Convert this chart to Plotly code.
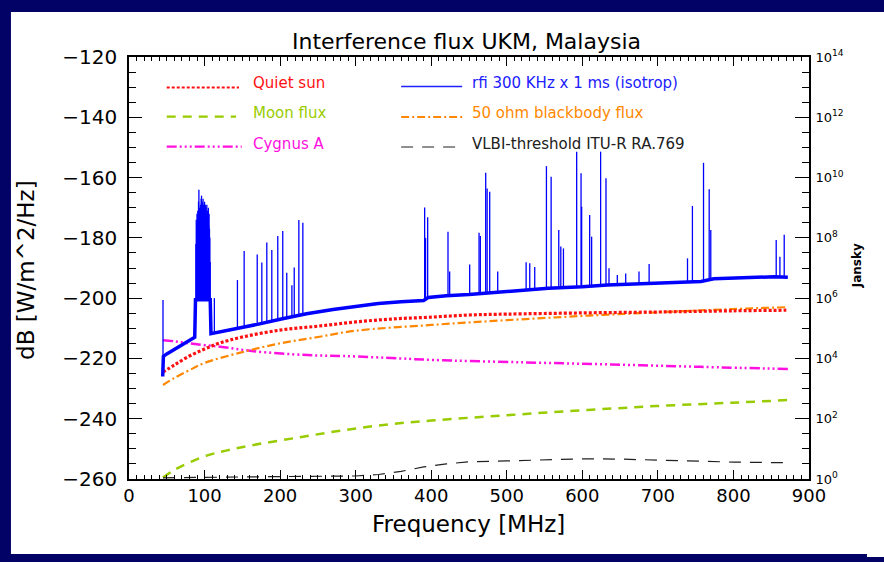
import numpy as np
import plotly.graph_objects as go

# ---------------- data ----------------
sun_freq = [45, 60, 80, 100, 120, 150, 200, 250, 300, 350, 400, 450, 500, 600, 700, 800, 870]
sun_db = [-224.5, -222.2, -219.2, -216.9, -214.9, -212.9, -210.6, -209.3, -207.9, -206.9,
          -206.3, -205.6, -205.3, -204.9, -204.6, -204.2, -204.0]

moon_freq = [45, 60, 80, 106, 130, 165, 225, 284, 343, 400, 461, 520, 579, 640, 698, 760, 816, 872]
moon_db = [-259.5, -257.0, -254.5, -252.0, -250.5, -248.7, -246.2, -243.8, -241.9, -240.6,
           -239.5, -238.5, -237.5, -236.6, -235.8, -235.1, -234.5, -233.8]

cyg_freq = [45, 60, 80, 100, 121, 165, 236, 284, 359, 402, 521, 639, 757, 872]
cyg_db = [-214.0, -214.3, -215.0, -215.6, -216.1, -217.6, -218.9, -219.2, -220.0, -220.5,
          -221.3, -222.0, -222.8, -223.5]

bb_freq = [45, 60, 80, 100, 150, 200, 250, 300, 400, 500, 600, 700, 800, 870]
bb_db = [-228.8, -226.5, -223.9, -221.5, -217.9, -215.0, -212.9, -210.8, -208.9, -207.3,
         -205.9, -204.7, -203.6, -203.0]

vlbi_freq = [45, 100, 200, 300, 330, 360, 390, 420, 450, 500, 550, 600, 650, 700, 750, 800, 870]
vlbi_db = [-259.6, -259.4, -259.2, -259.0, -258.5, -257.5, -256.0, -255.0, -254.3, -254.0,
           -253.6, -253.3, -253.4, -253.8, -254.2, -254.4, -254.6]

# rfi: baseline of the measured spectrum
rfi_base_freq = [44.6, 45.5, 50, 60, 70, 80, 87, 88, 107.5, 108.5, 115, 130, 150, 170, 200, 235,
                 270, 300, 330, 360, 390, 396, 420, 450, 478, 500, 530, 555, 600, 633, 660,
                 686, 720, 757, 774, 800, 830, 854, 872]
rfi_base_db = [-226.0, -219.3, -218.5, -217.0, -215.5, -214.0, -213.0, -200.5, -200.5, -211.8,
               -211.5, -210.7, -209.7, -208.7, -207.0, -205.2, -203.8, -202.8, -201.8, -201.2,
               -200.8, -199.8, -199.2, -198.8, -198.3, -197.8, -197.3, -196.7, -196.2, -195.6,
               -195.4, -195.1, -194.8, -194.5, -193.6, -193.4, -193.2, -192.9, -193.1]

# rfi: narrow interference spikes (frequency, peak level)
rfi_spike_freq = [45, 113, 143.5, 152.4, 169.7, 175.8, 182.4, 189, 196.9, 203.5, 208.8, 215.6,
                  218.7, 224.8, 230.1, 391.3, 392.5, 395.3, 422.2, 424.4, 450.9, 463.3, 465,
                  472.1, 474, 477.4, 488, 525.6, 530.4, 537, 552.5, 558.7, 568.8, 571.5, 575,
                  592.5, 598.3, 599.1, 609.7, 612.3, 624.2, 631.3, 635.3, 646.3, 657.4, 675,
                  688.4, 739.2, 745.7, 760.4, 767.9, 770, 856.6, 861.5, 867.2]
rfi_spike_db = [-200.6, -200.0, -194.0, -184.4, -185.5, -188.2, -181.5, -184.0, -179.4, -177.7,
                -191.6, -195.7, -189.8, -174.1, -175.0, -169.9, -180.0, -173.2, -178.0, -191.2,
                -188.8, -178.3, -179.4, -158.4, -163.6, -164.7, -191.2, -188.1, -188.4, -189.7,
                -156.2, -159.7, -177.4, -182.9, -183.5, -151.4, -158.6, -169.7, -172.4, -179.6,
                -151.4, -160.2, -190.1, -192.3, -191.8, -191.2, -188.7, -186.8, -169.4, -155.1,
                -163.9, -177.4, -180.7, -186.3, -179.0]

# rfi: FM broadcast band 88-108 MHz
fm_freq = [88.5, 89.0, 89.5, 90.0, 90.5, 91.0, 91.5, 92.0, 92.5, 93.0, 93.5, 94.0, 94.5, 95.0,
           95.5, 96.0, 96.5, 97.0, 97.5, 98.0, 98.5, 99.0, 99.5, 100.0, 100.5, 101.0, 101.5,
           102.0, 102.5, 103.0, 103.5, 104.0, 104.5, 105.0, 105.5, 106.0, 106.5, 107.0, 107.5]
fm_db = [-182, -174, -176, -172, -175, -171, -173, -168, -164, -172, -170, -174, -169, -171,
         -167, -166, -170, -168, -173, -167, -169, -172, -170, -168, -171, -169, -174, -170,
         -172, -169, -175, -171, -173, -170, -176, -172, -177, -180, -188]

jansky_ticks = [-260, -240, -220, -200, -180, -160, -140, -120]
jansky_text = ["10<sup>0</sup>", "10<sup>2</sup>", "10<sup>4</sup>", "10<sup>6</sup>",
               "10<sup>8</sup>", "10<sup>10</sup>", "10<sup>12</sup>", "10<sup>14</sup>"]

# ---------------- colours / styles ----------------
NAVY = "#020266"
C_SUN = "#ff1010"
C_MOON = "#99cc00"
C_CYG = "#ff10e0"
C_RFI = "#0000ff"
C_BB = "#ff8800"
C_VLBI = "#202020"
FONT = "DejaVu Sans"

D_SUN = "3px,2px"
D_MOON = "9px,7px"
D_CYG = "10px,3px,2px,3px,2px,3px,2px,3px"
D_BB = "8px,3px,2px,3px"
D_VLBI = "12px,9px"

fig = go.Figure()

# spike segments built from the spike lists
sx, sy = [], []
for f, p in zip(rfi_spike_freq + fm_freq, rfi_spike_db + fm_db):
    foot = float(np.interp(f, rfi_base_freq, rfi_base_db))
    sx += [f, f, None]
    sy += [foot, p, None]

fig.add_trace(go.Scatter(x=vlbi_freq, y=vlbi_db, mode="lines", yaxis="y2",
                         line=dict(color=C_VLBI, width=1.2, dash=D_VLBI), showlegend=False))
fig.add_trace(go.Scatter(x=moon_freq, y=moon_db, mode="lines", line_shape="spline",
                         line=dict(color=C_MOON, width=2.5, dash=D_MOON), showlegend=False))
fig.add_trace(go.Scatter(x=cyg_freq, y=cyg_db, mode="lines", line_shape="spline",
                         line=dict(color=C_CYG, width=2.5, dash=D_CYG), showlegend=False))
fig.add_trace(go.Scatter(x=bb_freq, y=bb_db, mode="lines", line_shape="spline",
                         line=dict(color=C_BB, width=2.2, dash=D_BB), showlegend=False))
fig.add_trace(go.Scatter(x=sun_freq, y=sun_db, mode="lines", line_shape="spline",
                         line=dict(color=C_SUN, width=3.2, dash=D_SUN), showlegend=False))
fig.add_trace(go.Scatter(x=sx, y=sy, mode="lines", connectgaps=False,
                         line=dict(color=C_RFI, width=1.3), showlegend=False))
fig.add_trace(go.Scatter(x=rfi_base_freq, y=rfi_base_db, mode="lines",
                         line=dict(color=C_RFI, width=3.5), showlegend=False))

# ---------------- layout ----------------
# the page places the figure 8 px in from the top-left corner (body margin);
# the figure is sized so that the page does not overflow the window
OFF = 8
W, H = 884 - OFF, 562 - 2 * OFF
L = 129 - OFF
T = 57 - OFF
R = W - (808.7 - OFF)
B = H - (479 - OFF)
PW, PH = W - L - R, H - T - B


def px(x):
    return (x - OFF - L) / PW


def py(y):
    return (H - B - (y - OFF)) / PH


shapes = [dict(type="rect", xref="paper", yref="paper", x0=px(11), x1=px(920), y0=py(557), y1=py(12),
               fillcolor="white", line=dict(width=0), layer="below")]
annotations = []

legend_items = [
    ("Quiet sun", C_SUN, D_SUN, 2.2, 166.7, 239, 250.7, 82.7, 87.5),
    ("Moon flux", C_MOON, D_MOON, 2.2, 166.7, 236, 250.7, 113.3, 116.6),
    ("Cygnus A", C_CYG, D_CYG, 2.2, 166.7, 241.7, 250.7, 144.0, 146.7),
    ("rfi 300 KHz x 1 ms (isotrop)", "#2020ff", "solid", 1.3, 401, 462, 469.6, 82.7, 86.5),
    ("50 ohm blackbody flux", C_BB, D_BB, 2.0, 401, 462, 469.6, 113.3, 117.0),
    ("VLBI-threshold ITU-R RA.769", C_VLBI, D_VLBI, 1.2, 401, 462, 469.6, 144.0, 147.0),
]
for name, col, dash, lw, x0, x1, tx, ty, ly in legend_items:
    shapes.append(dict(type="line", xref="paper", yref="paper", x0=px(x0), x1=px(x1),
                       y0=py(ly), y1=py(ly), line=dict(color=col, width=lw, dash=dash)))
    annotations.append(dict(xref="paper", yref="paper", x=px(tx), y=py(ty), xanchor="left",
                            yanchor="middle", text=name, showarrow=False,
                            font=dict(family=FONT, size=15, color=col)))

annotations += [
    dict(xref="paper", yref="paper", x=px(466), y=py(41), text="Interference flux UKM, Malaysia",
         showarrow=False, xanchor="center", yanchor="middle", font=dict(family=FONT, size=22, color="black")),
    dict(xref="paper", yref="paper", x=px(468), y=py(524), text="Frequency [MHz]",
         showarrow=False, xanchor="center", yanchor="middle", font=dict(family=FONT, size=23, color="black")),
    dict(xref="paper", yref="paper", x=px(26), y=py(270), text="dB [W/m^2/Hz]", textangle=-90,
         showarrow=False, xanchor="center", yanchor="middle", font=dict(family=FONT, size=23, color="black")),
    dict(xref="paper", yref="paper", x=px(857), y=py(266), text="<b>Jansky</b>", textangle=-90,
         showarrow=False, xanchor="center", yanchor="middle", font=dict(family=FONT, size=12, color="black")),
]

axis_common = dict(showgrid=False, zeroline=False, showline=True, linecolor="black", linewidth=1.6,
                   ticks="inside", tickcolor="black", tickwidth=1.4)

fig.update_layout(
    width=W, height=H,
    margin=dict(l=L, r=R, t=T, b=B, pad=0),
    paper_bgcolor=NAVY,
    plot_bgcolor="white",
    showlegend=False,
    shapes=shapes,
    annotations=annotations,
    xaxis=dict(range=[0, 900], tickmode="linear", tick0=0, dtick=100, ticklen=9, mirror="ticks",
               tickfont=dict(family=FONT, size=18, color="black"),
               minor=dict(dtick=10, ticklen=4.5, ticks="inside", tickcolor="black", tickwidth=1),
               **axis_common),
    yaxis=dict(range=[-260, -120], tickmode="linear", tick0=-260, dtick=20, ticklen=13,
               tickfont=dict(family=FONT, size=20, color="black"), ticklabelstandoff=6,
               minor=dict(dtick=5, ticklen=7, ticks="inside", tickcolor="black", tickwidth=1.2),
               **axis_common),
    yaxis2=dict(range=[-260, -120], overlaying="y", side="right", tickmode="array",
                tickvals=jansky_ticks, ticktext=jansky_text, ticklen=14,
                tickfont=dict(family=FONT, size=13, color="black"), ticklabelstandoff=2,
                minor=dict(tickmode="linear", tick0=-260, dtick=5, ticklen=7, ticks="inside",
                           tickcolor="black", tickwidth=1.2),
                **axis_common),
)

# page background matches the navy frame; the white panel continues to the right window edge
page_js = ("document.documentElement.style.background='" + NAVY + "';"
           "document.body.style.background='" + NAVY + "';"
           "var edge=document.createElement('div');"
           "edge.style.cssText='position:fixed;left:867px;top:12px;width:40px;height:545px;"
           "background:white;z-index:1000;pointer-events:none;';"
           "document.body.appendChild(edge);")

fig.write_html("out.html", post_script=page_js, config={"displayModeBar": False})
